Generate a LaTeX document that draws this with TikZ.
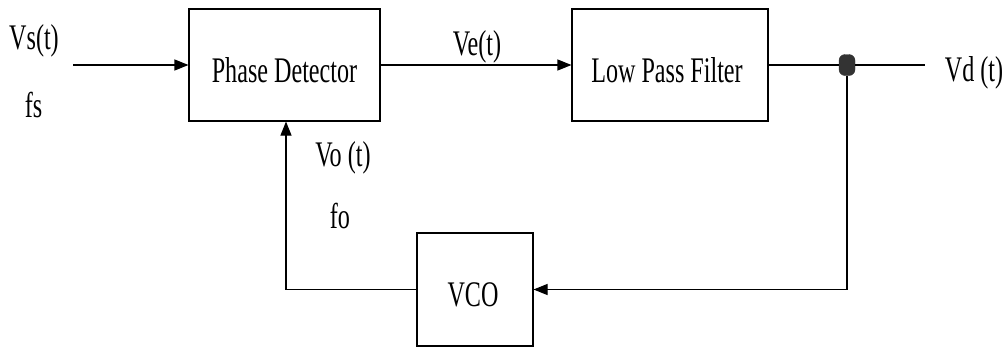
\documentclass[tikz,border=0pt]{standalone}
\usepackage{fontspec}
\setmainfont[FakeStretch=0.67]{Liberation Serif}
\usetikzlibrary{arrows.meta}
\begin{document}
\begin{tikzpicture}[x=1pt,y=-1pt,
  blk/.style={draw,line width=1.1pt,minimum width=#1},
  lbl/.style={anchor=base,inner sep=0pt,font=\fontsize{36}{40}\selectfont},
  wire/.style={line width=1.1pt},
  arr/.style={wire,-{Triangle[length=14pt,width=11pt]}}]
\useasboundingbox (0,0) rectangle (1007,349);
\node[blk=191pt,minimum height=112pt,inner sep=0pt] (pd) at (284.5,65) {};
\node[blk=196pt,minimum height=112pt,inner sep=0pt] (lpf) at (670,65) {};
\node[blk=116pt,minimum height=113pt,inner sep=0pt] (vco) at (475,289.5) {};
\node[lbl] (pdt) at (284.5,82) {Phase Detector};
\node[lbl] (lpft) at (667,82) {Low Pass Filter};
\node[lbl] (vcot) at (473,306) {VCO};
\node[lbl] (vs) at (34,49) {Vs(t)};
\node[lbl] (fs) at (33.5,117) {fs};
\node[lbl] (ve) at (477,55) {Ve(t)};
\node[lbl] (vo) at (343,166) {Vo (t)};
\node[lbl] (fo) at (340,228) {fo};
\node[lbl] (vd) at (974,81) {Vd (t)};
\coordinate (in) at (73,65);
\coordinate (out) at (925,65);
\coordinate (cl) at (286,289.5);
\coordinate (cr) at (847,289.5);
\node[draw=black!80,fill=black!80,rounded corners=6pt,minimum width=16pt,minimum height=21pt,inner sep=0pt] (dot) at (847,65) {};
\draw[arr] (in) -- (pd.west);
\draw[arr] (pd.east) -- (lpf.west);
\draw[wire] (lpf.east) -- (dot.west);
\draw[wire] (dot.east) -- (out);
\draw[wire] (dot.south) -- (cr);
\draw[arr] (cr) -- (vco.east |- cr);
\draw[wire] (vco.west |- cl) -- (cl);
\draw[arr] (cl) -- (cl |- pd.south);
\end{tikzpicture}
\end{document}
